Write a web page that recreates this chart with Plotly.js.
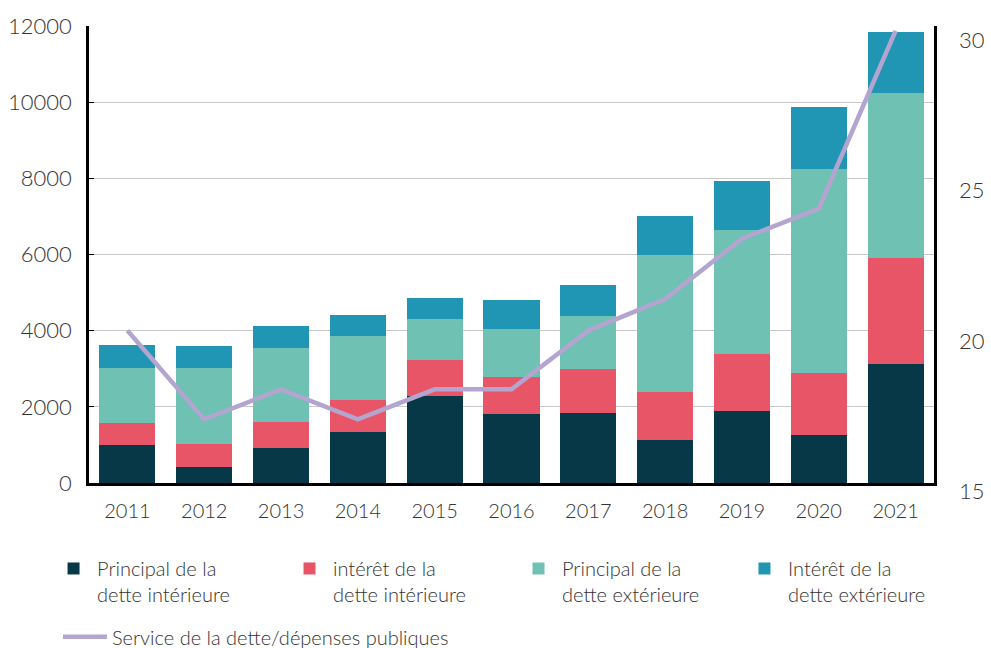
<!DOCTYPE html>
<html>
<head>
<meta charset="utf-8">
<script src="https://cdn.plot.ly/plotly-3.0.1.min.js"></script>
<style>
  html, body { margin: 0; padding: 0; background: #fff; }
  #chart { width: 991px; height: 648px; }
</style>
</head>
<body>
<div id="chart"></div>
<script>
// years on the x axis
var years = ["2011", "2012", "2013", "2014", "2015", "2016", "2017", "2018", "2019", "2020", "2021"];

// stacked components
var principalInterieure = [1000, 420, 920, 1340, 2285, 1810, 1840, 1130, 1890, 1260, 3125];
var interetInterieure = [576, 604, 680, 840, 945, 975, 1155, 1260, 1500, 1630, 2785];
var principalExterieure = [1444, 1996, 1945, 1680, 1077, 1260, 1390, 3600, 3255, 5355, 4335];
var interetExterieure = [604, 578, 578, 550, 551, 760, 815, 1020, 1285, 1630, 1600];

// line on the right axis
var serviceDette = [20.35, 17.4, 18.4, 17.4, 18.4, 18.4, 20.35, 21.4, 23.4, 24.4, 30.3];

var fontFamily = "Lato, 'Open Sans', sans-serif";
var textColor = "#333333";

// stacked bars, one legend box each so they sit where the reference puts them
var trace1 = {
    x: years, y: principalInterieure, type: "bar",
    name: "Principal de la<br>dette intérieure",
    marker: {color: "#073848"}, legend: "legend"
};
var trace2 = {
    x: years, y: interetInterieure, type: "bar",
    name: "intérêt de la<br>dette intérieure",
    marker: {color: "#e85566"}, legend: "legend2"
};
var trace3 = {
    x: years, y: principalExterieure, type: "bar",
    name: "Principal de la<br>dette extérieure",
    marker: {color: "#6fc1b3"}, legend: "legend3"
};
var trace4 = {
    x: years, y: interetExterieure, type: "bar",
    name: "Intérêt de la<br>dette extérieure",
    marker: {color: "#2196b4"}, legend: "legend4"
};
var trace5 = {
    x: years, y: serviceDette, type: "scatter", mode: "lines",
    name: "Service de la dette/dépenses publiques",
    yaxis: "y2", legend: "legend5",
    line: {color: "#b3a5cf", width: 4.5}
};

var data = [trace1, trace2, trace3, trace4, trace5];

function legendBox(x, y, itemwidth) {
    return {
        orientation: "h",
        xref: "container", yref: "container",
        x: x, xanchor: "left",
        y: y, yanchor: "top",
        valign: "top",
        itemwidth: itemwidth,
        bgcolor: "rgba(0,0,0,0)",
        font: {family: fontFamily, size: 20, color: textColor, weight: 300}
    };
}

var layout = {
    width: 991,
    height: 648,
    margin: {l: 89, r: 57, t: 20, b: 148},
    paper_bgcolor: "#ffffff",
    plot_bgcolor: "rgba(0,0,0,0)",
    barmode: "stack",
    bargap: 0.27,
    font: {family: fontFamily, color: textColor, size: 20},
    showlegend: true,
    legend: legendBox(0.0505, 0.1528, 37),
    legend2: legendBox(0.2886, 0.1528, 37),
    legend3: legendBox(0.5197, 0.1528, 37),
    legend4: legendBox(0.7477, 0.1528, 37),
    legend5: legendBox(0.0585, 0.0475, 44),
    xaxis: {
        type: "category",
        range: [-0.5, 10.5],
        showline: true, linecolor: "#000000", linewidth: 3,
        ticks: "", showgrid: false,
        ticklabelstandoff: 8,
        tickfont: {size: 20, weight: 300}
    },
    yaxis: {
        domain: [0.035417, 0.9875],
        range: [0, 12000], dtick: 2000,
        tickformat: "d",
        showline: true, mirror: true, linecolor: "#000000", linewidth: 2.5,
        ticks: "inside", ticklen: 5, tickcolor: "#000000",
        gridcolor: "#c8c8c8", gridwidth: 1,
        zeroline: false,
        ticklabelstandoff: 10,
        tickfont: {size: 22, weight: 300}
    },
    yaxis2: {
        domain: [0.01729, 0.99598],
        range: [15, 30.6],
        tickvals: [15, 20, 25, 30],
        anchor: "x", side: "right",
        showgrid: false, zeroline: false, showline: false,
        ticklabelstandoff: 24,
        tickfont: {size: 22, weight: 300}
    }
};

Plotly.newPlot("chart", data, layout, {displayModeBar: false});
</script>
</body>
</html>
